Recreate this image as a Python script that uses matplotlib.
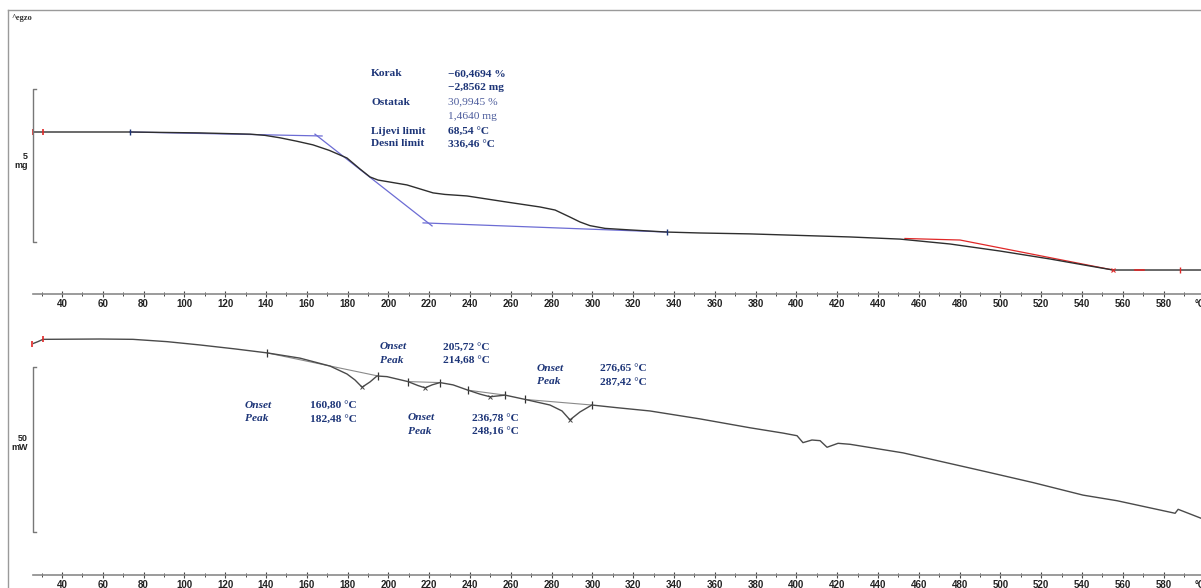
import matplotlib
matplotlib.use("Agg")
import matplotlib.pyplot as plt
from matplotlib.lines import Line2D
import numpy as np

# ---- TGA (mass, mg) ----
tga_T = [25.8, 30.7, 73.3, 107.6, 132.2, 139.5, 146.9, 155.0, 163.0, 171.0, 179.7,
         186.1, 191.0, 194.9, 202.0, 209.1, 215.5, 221.9, 227.7, 238.5, 258.1, 274.3,
         281.7, 289.0, 293.9, 298.8, 306.2, 318.4, 336.6, 352.7, 377.3,
         426.3, 450.8, 475.3, 499.8, 524.3, 543.9, 555.2, 568.4, 598.3]
tga_m = [4.72, 4.72, 4.72, 4.69, 4.65, 4.61, 4.53, 4.42, 4.30, 4.12, 3.87,
         3.51, 3.25, 3.15, 3.07, 2.99, 2.86, 2.73, 2.68, 2.63, 2.43, 2.27,
         2.17, 1.94, 1.78, 1.66, 1.57, 1.52, 1.45, 1.42, 1.39,
         1.29, 1.22, 1.06, 0.83, 0.57, 0.34, 0.21, 0.21, 0.21]

# step tangents (blue) and second step (red)
tan1_T, tan1_m = [73.3, 167.5], [4.72, 4.59]
tan2_T, tan2_m = [164.0, 221.4], [4.65, 1.65]
tan3_T, tan3_m = [217.0, 336.6], [1.75, 1.45]
red_T, red_m = [453.2, 480.2, 555.2], [1.24, 1.19, 0.21]

step_labels = ["Korak", "", "Ostatak", "", "Lijevi limit", "Desni limit"]
step_values = ["\u221260,4694 %", "\u22122,8562 mg", "30,9945 %", "1,4640 mg",
               "68,54 \u00b0C", "336,46 \u00b0C"]

# ---- DSC (heat flow, mW, relative) ----
dsc_T = [25.3, 28.2, 30.7, 58.6, 74.8, 91.5, 107.6, 124.8, 140.5, 156.7, 171.4,
         179.7, 183.6, 187.1, 191.0, 194.4, 199.3, 209.6, 214.5, 218.0, 221.4, 225.3,
         231.7, 239.0, 244.9, 249.8, 257.2, 267.0, 279.2, 285.1, 289.0, 293.9, 299.7,
         311.9, 328.2, 352.7, 377.3, 393.4, 400.3, 403.2, 407.6, 411.6, 415.0, 420.4,
         426.3, 452.3, 491.5, 516.0, 540.5, 557.2, 585.6, 587.1, 598.3]
dsc_q = [-1.5, -0.8, -0.1, 0.0, -0.1, -0.8, -1.8, -3.0, -4.2, -5.8, -8.2,
         -10.6, -12.4, -14.6, -13.0, -11.2, -11.4, -12.9, -14.1, -14.8, -13.9, -13.2,
         -13.9, -15.5, -16.7, -17.5, -17.0, -18.3, -20.0, -21.8, -24.5, -22.1, -20.0,
         -20.8, -21.8, -24.2, -26.9, -28.5, -29.3, -31.4, -30.6, -30.8, -32.8, -31.6,
         -31.9, -34.5, -40.0, -43.5, -47.3, -49.0, -52.8, -51.6, -54.3]

base_T = [(140.5, 194.9), (209.6, 225.3), (239.0, 257.2), (267.0, 299.8)]
base_q = [(-4.2, -11.2), (-12.9, -13.2), (-15.5, -17.0), (-18.3, -20.0)]
peak_T = [187.1, 218.0, 249.8, 289.0]
peak_q = [-14.6, -14.8, -17.5, -24.5]
onset_vals = ["160,80 \u00b0C", "205,72 \u00b0C", "236,78 \u00b0C", "276,65 \u00b0C"]
peak_vals = ["182,48 \u00b0C", "214,68 \u00b0C", "248,16 \u00b0C", "287,42 \u00b0C"]
# label positions (T, q) of "Onset" line, and x of value column
ann_pos = [(129.7, -20.0, 161.6), (195.9, -2.4, 226.8), (209.6, -23.9, 241.0), (272.8, -8.8, 303.7)]

W, H = 1201, 588
navy = "#1d3578"
light_navy = "#4c5c9c"
blue = "#6c6cd4"
red = "#e02828"
xlo, xhi = 25.8, 598.3

fig = plt.figure(figsize=(W / 100, H / 100), dpi=100)

def style_axis(ax):
    for s in ["left", "right", "top"]:
        ax.spines[s].set_visible(False)
    ax.spines["bottom"].set_color("#8a8a8a")
    ax.spines["bottom"].set_linewidth(1.2)
    ax.set_xlim(xlo, xhi)
    ax.set_xticks(np.arange(40, 600, 20))
    ax.set_xticks(np.arange(30, 600, 10), minor=True)
    ax.tick_params(axis="x", which="major", direction="inout", length=4, width=0.8,
                   color="#444444", pad=1.5, labelsize=7)
    ax.tick_params(axis="x", which="minor", direction="inout", length=3, width=0.7,
                   color="#444444")
    ax.set_yticks([])
    for lb in ax.get_xticklabels():
        lb.set_fontweight("bold")
        lb.set_family("Liberation Sans")
        lb.set_color("#222222")
    ax.annotate("\u00b0C", xy=(597.6, 0), xycoords=("data", "axes fraction"),
                xytext=(0, -3.5), textcoords="offset points", ha="center", va="top",
                fontsize=7, fontweight="bold", family="Liberation Sans", color="#222222",
                annotation_clip=False)
    ax.patch.set_alpha(0)

def scale_bar(ax, top, bottom, label, ylab):
    cap = 1.5
    ax.plot([xlo + cap, xlo, xlo, xlo + cap], [top, top, bottom, bottom],
            color="#777777", lw=1.0, clip_on=False)
    ax.text(xlo - 2.4, ylab, label, ha="right", va="center", fontsize=6.5,
            fontweight="bold", family="Liberation Sans", linespacing=1.1, color="#222222")

# ---------- top: TGA ----------
ax1 = fig.add_axes([33 / W, (H - 294) / H, (W - 33) / W, 274 / H])
style_axis(ax1)
ax1.set_ylim(-0.574, 8.38)
ax1.plot(tan1_T, tan1_m, color=blue, lw=0.9)
ax1.plot(tan2_T, tan2_m, color=blue, lw=0.9)
ax1.plot(tan3_T, tan3_m, color=blue, lw=0.9)
ax1.plot(red_T, red_m, color=red, lw=0.9)
ax1.plot(tga_T, tga_m, color="#2e2e2e", lw=1.0)
ax1.plot([tan1_T[0], tan3_T[1]], [tan1_m[0], tan3_m[1]], ls="none", marker="|",
         ms=5, mew=1.0, color=navy)
ax1.plot([tga_T[0], tga_T[1]], [tga_m[0], tga_m[1]], ls="none", marker="|",
         ms=5, mew=1.2, color=red, clip_on=False)
ax1.plot([red_T[2]], [red_m[2]], ls="none", marker="x", ms=3, mew=0.8, color=red)
ax1.plot([566.0, 570.5], [0.21, 0.21], color=red, lw=1.2)
ax1.plot([588.0], [0.21], ls="none", marker="|", ms=5, mew=1.0, color=red)
scale_bar(ax1, 6.125, 1.125, "5\nmg", 3.77)

rows_m = [6.62, 6.19, 5.70, 5.24, 4.75, 4.33]
for i, (lab, val, ym) in enumerate(zip(step_labels, step_values, rows_m)):
    light = i in (2, 3)
    if lab:
        ax1.text(191.5, ym, lab, ha="left", va="center", fontsize=8.2,
                 fontweight="bold", family="Liberation Serif", color=navy)
    ax1.text(229.2, ym, val, ha="left", va="center", fontsize=8.2,
             fontweight="normal" if light else "bold", family="Liberation Serif",
             color=light_navy if light else navy)

# ---------- bottom: DSC ----------
ax2 = fig.add_axes([33 / W, (H - 575) / H, (W - 33) / W, 255 / H])
style_axis(ax2)
ax2.set_ylim(-71.5, 5.76)
for bt, bq in zip(base_T, base_q):
    ax2.plot(bt, bq, color="#8a8a8a", lw=0.8)
    ax2.plot(bt, bq, ls="none", marker="|", ms=6, mew=0.9, color="#333333")
ax2.plot(dsc_T, dsc_q, color="#4a4a4a", lw=1.0)
ax2.plot(peak_T, peak_q, ls="none", marker="x", ms=3, mew=0.7, color="#444444")
ax2.plot(dsc_T[:3:2], dsc_q[:3:2], ls="none", marker="|", ms=5, mew=1.2, color=red,
         clip_on=False)
scale_bar(ax2, -8.48, -58.48, "50\nmW", -31.5)

dq = 4.2
for (tx, qy, vx), on, pk in zip(ann_pos, onset_vals, peak_vals):
    ax2.text(tx, qy, "Onset", ha="left", va="center", fontsize=8.2, fontweight="bold",
             style="italic", family="Liberation Serif", color=navy)
    ax2.text(tx, qy - dq, "Peak", ha="left", va="center", fontsize=8.2, fontweight="bold",
             style="italic", family="Liberation Serif", color=navy)
    ax2.text(vx, qy, on, ha="left", va="center", fontsize=8.2, fontweight="bold",
             family="Liberation Serif", color=navy)
    ax2.text(vx, qy - dq, pk, ha="left", va="center", fontsize=8.2, fontweight="bold",
             family="Liberation Serif", color=navy)

# page frame and exo marker
fig.add_artist(Line2D([8 / W, 8 / W], [0, (H - 10) / H], color="#9a9a9a", lw=1.0))
fig.add_artist(Line2D([8 / W, 1], [(H - 10) / H, (H - 10) / H], color="#9a9a9a", lw=1.0))
fig.text(11 / W, (H - 18) / H, "^egzo", fontsize=6, fontweight="bold",
         family="Liberation Serif", color="#333333", va="center")

fig.savefig("out.png", dpi=100)
